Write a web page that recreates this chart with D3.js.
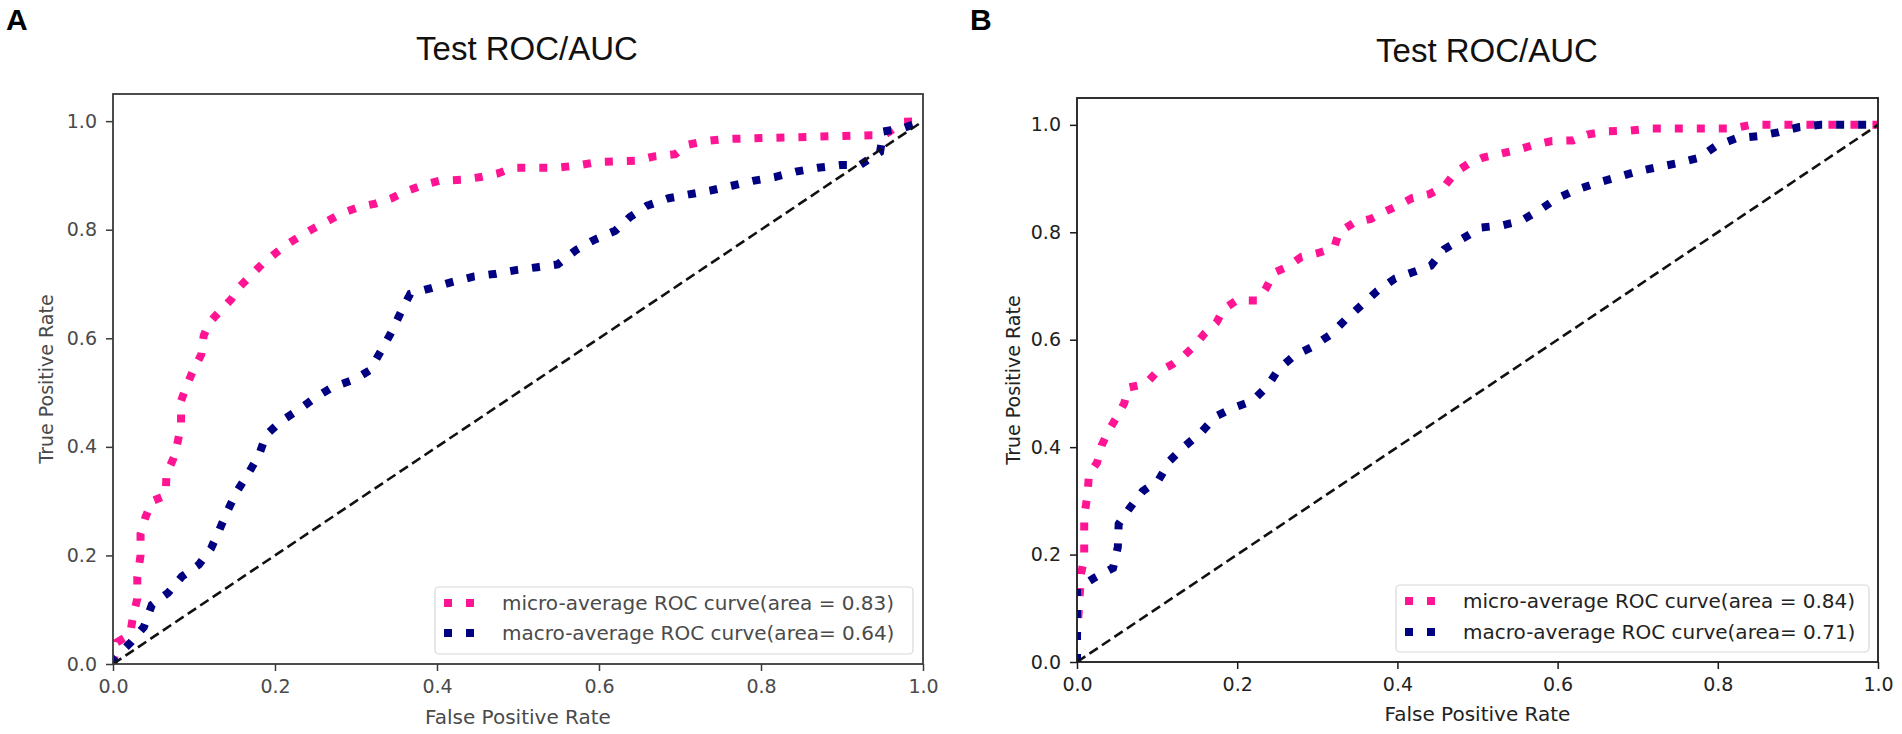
<!DOCTYPE html>
<html>
<head>
<meta charset="utf-8">
<script src="https://cdn.jsdelivr.net/npm/d3@7"></script>
<style>
  body { margin: 0; background: #fff; }
  svg { display: block; }
</style>
</head>
<body>
<script>
// ---- data ----
const tickValues = [0, 0.2, 0.4, 0.6, 0.8, 1.0]
const panelTitles = ['Test ROC/AUC', 'Test ROC/AUC']
const panelLetters = ['A', 'B']
const xLabel = 'False Positive Rate'
const yLabel = 'True Positive Rate'

// panel A
const microFprA = [0, 0.005, 0.021, 0.025, 0.03, 0.03, 0.034, 0.034, 0.04, 0.048, 0.065, 0.066, 0.075, 0.08, 0.084, 0.084, 0.091, 0.099, 0.109, 0.112, 0.119, 0.132, 0.146, 0.157, 0.171, 0.185, 0.2, 0.216, 0.231, 0.247, 0.265, 0.282, 0.304, 0.324, 0.344, 0.364, 0.384, 0.403, 0.43, 0.454, 0.476, 0.493, 0.546, 0.572, 0.599, 0.645, 0.668, 0.694, 0.708, 0.731, 0.754, 0.936, 0.952, 0.976, 1]
const microTprA = [0, 0.04, 0.054, 0.09, 0.12, 0.16, 0.2, 0.24, 0.27, 0.3, 0.31, 0.35, 0.38, 0.41, 0.44, 0.485, 0.513, 0.541, 0.57, 0.605, 0.629, 0.65, 0.672, 0.696, 0.717, 0.738, 0.756, 0.774, 0.788, 0.802, 0.816, 0.83, 0.842, 0.848, 0.858, 0.872, 0.883, 0.89, 0.892, 0.897, 0.904, 0.914, 0.914, 0.918, 0.925, 0.927, 0.935, 0.939, 0.956, 0.963, 0.967, 0.974, 0.974, 0.999, 1]
const macroFprA = [0, 0.002, 0.022, 0.038, 0.048, 0.068, 0.085, 0.106, 0.121, 0.131, 0.141, 0.153, 0.167, 0.18, 0.189, 0.208, 0.231, 0.251, 0.271, 0.298, 0.317, 0.331, 0.344, 0.355, 0.367, 0.394, 0.417, 0.446, 0.473, 0.499, 0.524, 0.549, 0.572, 0.595, 0.62, 0.638, 0.659, 0.686, 0.711, 0.737, 0.764, 0.79, 0.817, 0.843, 0.87, 0.898, 0.922, 0.947, 0.951, 0.975, 1]
const macroTprA = [0, 0.011, 0.04, 0.068, 0.109, 0.131, 0.161, 0.183, 0.213, 0.246, 0.281, 0.318, 0.351, 0.384, 0.422, 0.448, 0.47, 0.492, 0.51, 0.524, 0.541, 0.577, 0.612, 0.647, 0.682, 0.693, 0.703, 0.714, 0.719, 0.726, 0.731, 0.736, 0.763, 0.782, 0.798, 0.823, 0.844, 0.858, 0.865, 0.872, 0.881, 0.89, 0.897, 0.907, 0.914, 0.919, 0.919, 0.943, 0.981, 0.987, 1]
const legendLabelsA = ['micro-average ROC curve(area = 0.83)', 'macro-average ROC curve(area= 0.64)']

// panel B
const microFprB = [0, 0, 0.002, 0.005, 0.009, 0.009, 0.009, 0.013, 0.015, 0.025, 0.031, 0.04, 0.05, 0.059, 0.064, 0.086, 0.099, 0.119, 0.134, 0.147, 0.159, 0.174, 0.183, 0.199, 0.226, 0.236, 0.246, 0.263, 0.28, 0.3, 0.321, 0.327, 0.346, 0.367, 0.385, 0.401, 0.419, 0.44, 0.459, 0.472, 0.488, 0.507, 0.528, 0.551, 0.571, 0.593, 0.619, 0.637, 0.661, 0.688, 0.714, 0.818, 0.841, 1]
const microTprB = [0, 0.05, 0.09, 0.164, 0.193, 0.232, 0.271, 0.311, 0.35, 0.371, 0.404, 0.432, 0.457, 0.482, 0.511, 0.518, 0.539, 0.554, 0.571, 0.589, 0.611, 0.632, 0.657, 0.673, 0.673, 0.696, 0.725, 0.736, 0.754, 0.761, 0.771, 0.8, 0.818, 0.825, 0.839, 0.85, 0.864, 0.871, 0.886, 0.911, 0.927, 0.939, 0.946, 0.954, 0.963, 0.97, 0.971, 0.982, 0.988, 0.989, 0.993, 0.993, 1, 1]
const macroFprB = [0, 0, 0.022, 0.045, 0.051, 0.052, 0.066, 0.082, 0.102, 0.116, 0.134, 0.156, 0.173, 0.195, 0.219, 0.238, 0.252, 0.271, 0.293, 0.316, 0.335, 0.355, 0.375, 0.397, 0.418, 0.442, 0.458, 0.482, 0.505, 0.531, 0.554, 0.577, 0.599, 0.623, 0.647, 0.673, 0.699, 0.724, 0.751, 0.777, 0.798, 0.823, 0.85, 0.875, 0.902, 0.928, 1]
const macroTprB = [0, 0.136, 0.157, 0.175, 0.214, 0.257, 0.287, 0.318, 0.339, 0.375, 0.401, 0.429, 0.457, 0.473, 0.486, 0.514, 0.546, 0.57, 0.586, 0.609, 0.637, 0.664, 0.691, 0.714, 0.725, 0.738, 0.768, 0.789, 0.809, 0.813, 0.821, 0.841, 0.863, 0.879, 0.891, 0.902, 0.913, 0.921, 0.929, 0.939, 0.961, 0.975, 0.979, 0.986, 0.996, 1, 1]
const legendLabelsB = ['micro-average ROC curve(area = 0.84)', 'macro-average ROC curve(area= 0.71)']

const MICRO_COLOR = 'deeppink'
const MACRO_COLOR = 'navy'

const svg = d3.select('body')
    .append('svg')
    .attr('width', 1902)
    .attr('height', 734)

const panels = [
    {
        box: { left: 113, right: 923, top: 94, bottom: 664 },
        micro: d3.zip(microFprA, microTprA),
        macro: d3.zip(macroFprA, macroTprA),
        legend: legendLabelsA,
        title: panelTitles[0], letter: panelLetters[0],
        letterX: 6, titleX: 527, titleY: 60,
        yLabelX: 53, xLabelY: 724,
        legendBox: { x: 435, y: 587, w: 478, h: 67, rows: [603, 633] },
        textColor: '#4a4a4a', frameColor: '#3a3a3a', tickFont: 19
    },
    {
        box: { left: 1077, right: 1878, top: 98, bottom: 662 },
        micro: d3.zip(microFprB, microTprB),
        macro: d3.zip(macroFprB, macroTprB),
        legend: legendLabelsB,
        title: panelTitles[1], letter: panelLetters[1],
        letterX: 970, titleX: 1487, titleY: 62,
        yLabelX: 1020, xLabelY: 721,
        legendBox: { x: 1396, y: 585, w: 473, h: 67, rows: [601, 632] },
        textColor: '#222', frameColor: '#1a1a1a', tickFont: 19
    }
]

panels.forEach(drawPanel)

function drawPanel(p) {
    const b = p.box
    const x = d3.scaleLinear().domain([0, 1]).range([b.left, b.right])
    const y = d3.scaleLinear().domain([0, 1.05]).range([b.bottom, b.top])

    const g = svg.append('g')

    // panel letter + title
    g.append('text')
        .attr('x', p.letterX)
        .attr('y', 30)
        .style('font-family', '"Liberation Sans", Arial, sans-serif')
        .style('font-weight', 'bold')
        .style('font-size', '30px')
        .attr('fill', '#000')
        .text(p.letter)

    g.append('text')
        .attr('x', p.titleX)
        .attr('y', p.titleY)
        .attr('text-anchor', 'middle')
        .style('font-family', '"Liberation Sans", Arial, sans-serif')
        .style('font-size', '33px')
        .attr('fill', '#111')
        .text(p.title)

    // axes
    const fmt = d3.format('.1f')
    const xAxis = g.append('g')
        .attr('transform', `translate(0,${b.bottom})`)
        .call(d3.axisBottom(x).tickValues(tickValues).tickFormat(fmt).tickSize(7).tickSizeOuter(0).tickPadding(9))
    const yAxis = g.append('g')
        .attr('transform', `translate(${b.left},0)`)
        .call(d3.axisLeft(y).tickValues(tickValues).tickFormat(fmt).tickSize(7).tickSizeOuter(0).tickPadding(9))

    for (const ax of [xAxis, yAxis]) {
        ax.select('.domain').remove()
        ax.selectAll('line').attr('stroke', p.frameColor).attr('stroke-width', 1.5)
        ax.selectAll('text')
            .style('font-family', '"DejaVu Sans", sans-serif')
            .style('font-size', p.tickFont + 'px')
            .attr('fill', p.textColor)
    }

    g.append('text')
        .attr('x', (b.left + b.right) / 2)
        .attr('y', p.xLabelY)
        .attr('text-anchor', 'middle')
        .style('font-family', '"DejaVu Sans", sans-serif')
        .style('font-size', '20px')
        .attr('fill', p.textColor)
        .text(xLabel)

    g.append('text')
        .attr('transform', `translate(${p.yLabelX},${(b.top + b.bottom) / 2}) rotate(-90)`)
        .attr('text-anchor', 'middle')
        .style('font-family', '"DejaVu Sans", sans-serif')
        .style('font-size', '19px')
        .attr('fill', p.textColor)
        .text(yLabel)

    // curves, clipped to the plot box
    const clipId = 'clip-' + p.letter
    g.append('clipPath')
        .attr('id', clipId)
        .append('rect')
        .attr('x', b.left)
        .attr('y', b.top)
        .attr('width', b.right - b.left)
        .attr('height', b.bottom - b.top)

    const line = d3.line()
        .x(d => x(d[0]))
        .y(d => y(d[1]))

    const plot = g.append('g').attr('clip-path', `url(#${clipId})`)

    plot.append('path')
        .datum(p.micro)
        .attr('d', line)
        .attr('fill', 'none')
        .attr('stroke', MICRO_COLOR)
        .attr('stroke-width', 8)
        .attr('stroke-dasharray', '8 14')

    plot.append('path')
        .datum(p.macro)
        .attr('d', line)
        .attr('fill', 'none')
        .attr('stroke', MACRO_COLOR)
        .attr('stroke-width', 8)
        .attr('stroke-dasharray', '8 14')

    // chance diagonal
    plot.append('path')
        .datum([[0, 0], [1, 1]])
        .attr('d', line)
        .attr('fill', 'none')
        .attr('stroke', '#111')
        .attr('stroke-width', 2.6)
        .attr('stroke-dasharray', '10 5')

    // frame
    g.append('rect')
        .attr('x', b.left)
        .attr('y', b.top)
        .attr('width', b.right - b.left)
        .attr('height', b.bottom - b.top)
        .attr('fill', 'none')
        .attr('stroke', p.frameColor)
        .attr('stroke-width', 1.8)

    // legend
    const lb = p.legendBox
    const legend = g.append('g').attr('class', 'legend')
    legend.append('rect')
        .attr('x', lb.x)
        .attr('y', lb.y)
        .attr('width', lb.w)
        .attr('height', lb.h)
        .attr('rx', 4)
        .attr('fill', '#fff')
        .attr('fill-opacity', 0.85)
        .attr('stroke', '#d8d8d8')
        .attr('stroke-width', 1.2)

    const colors = [MICRO_COLOR, MACRO_COLOR]
    lb.rows.forEach((ry, i) => {
        legend.append('line')
            .attr('x1', lb.x + 9)
            .attr('x2', lb.x + 39)
            .attr('y1', ry)
            .attr('y2', ry)
            .attr('stroke', colors[i])
            .attr('stroke-width', 8)
            .attr('stroke-dasharray', '8 14')
        legend.append('text')
            .attr('x', lb.x + 67)
            .attr('y', ry)
            .attr('dy', '0.35em')
            .style('font-family', '"DejaVu Sans", sans-serif')
            .style('font-size', '20px')
            .attr('fill', p.textColor)
            .text(p.legend[i])
    })
}
</script>
</body>
</html>
